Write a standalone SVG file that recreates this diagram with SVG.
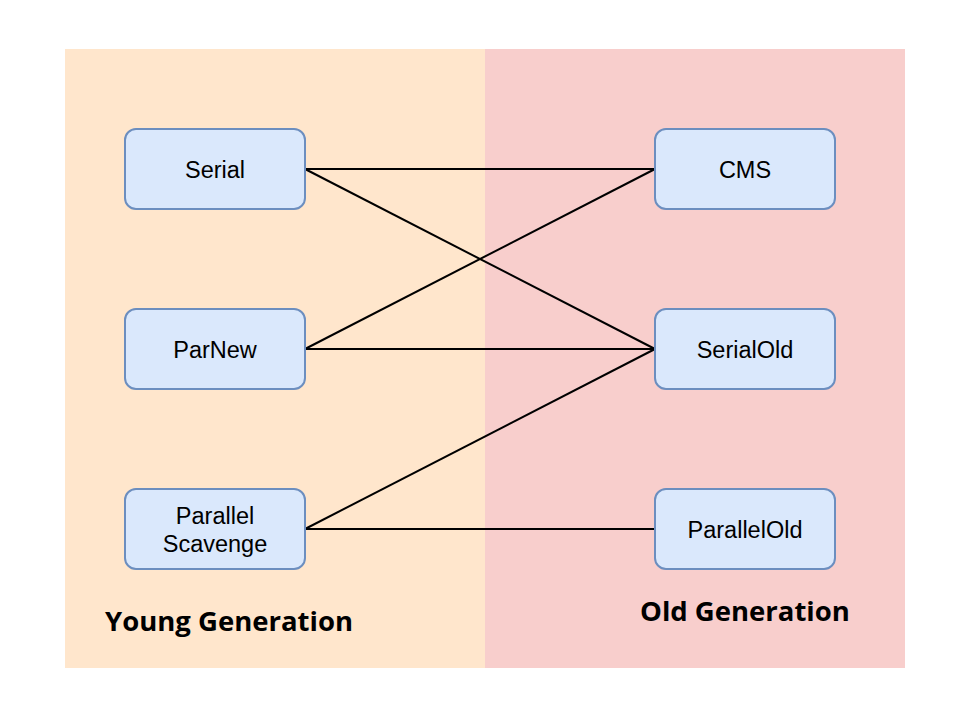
<svg xmlns="http://www.w3.org/2000/svg" width="978" height="720" viewBox="0 0 978 720">
<style>
.node rect{fill:#dae8fc;stroke:#6c8ebf;stroke-width:2}
.node text{font-family:"Liberation Sans",Arial,sans-serif;font-size:23.5px;fill:#000;text-anchor:middle}
.edge line{stroke:#000;stroke-width:2}
.label{font-family:"Open Sans","Noto Sans",sans-serif;font-weight:bold;font-size:27.5px;fill:#000}
</style>
<rect x="0" y="0" width="978" height="720" fill="#fff"/>
<g id="young-area"><rect x="65" y="49" width="420" height="619" fill="#ffe6cc"/></g>
<g id="old-area"><rect x="485" y="49" width="420" height="619" fill="#f8cecc"/></g>
<g id="connectors" class="edge">
<line x1="305" y1="169" x2="655" y2="169"/>
<line x1="305" y1="169" x2="655" y2="349"/>
<line x1="305" y1="349" x2="655" y2="169"/>
<line x1="305" y1="349" x2="655" y2="349"/>
<line x1="305" y1="529" x2="655" y2="349"/>
<line x1="305" y1="529" x2="655" y2="529"/>
</g>
<g id="serial" class="node"><rect x="125" y="129" width="180" height="80" rx="11"/><text x="215" y="177.5">Serial</text></g>
<g id="parnew" class="node"><rect x="125" y="309" width="180" height="80" rx="11"/><text x="215" y="357.5">ParNew</text></g>
<g id="parallel-scavenge" class="node"><rect x="125" y="489" width="180" height="80" rx="11"/><text x="215" y="524">Parallel</text><text x="215" y="551.5">Scavenge</text></g>
<g id="cms" class="node"><rect x="655" y="129" width="180" height="80" rx="11"/><text x="745" y="177.5">CMS</text></g>
<g id="serialold" class="node"><rect x="655" y="309" width="180" height="80" rx="11"/><text x="745" y="357.5">SerialOld</text></g>
<g id="parallelold" class="node"><rect x="655" y="489" width="180" height="80" rx="11"/><text x="745" y="537.5">ParallelOld</text></g>
<text class="label" x="105" y="631">Young Generation</text>
<text class="label" x="640" y="621">Old Generation</text>
</svg>
